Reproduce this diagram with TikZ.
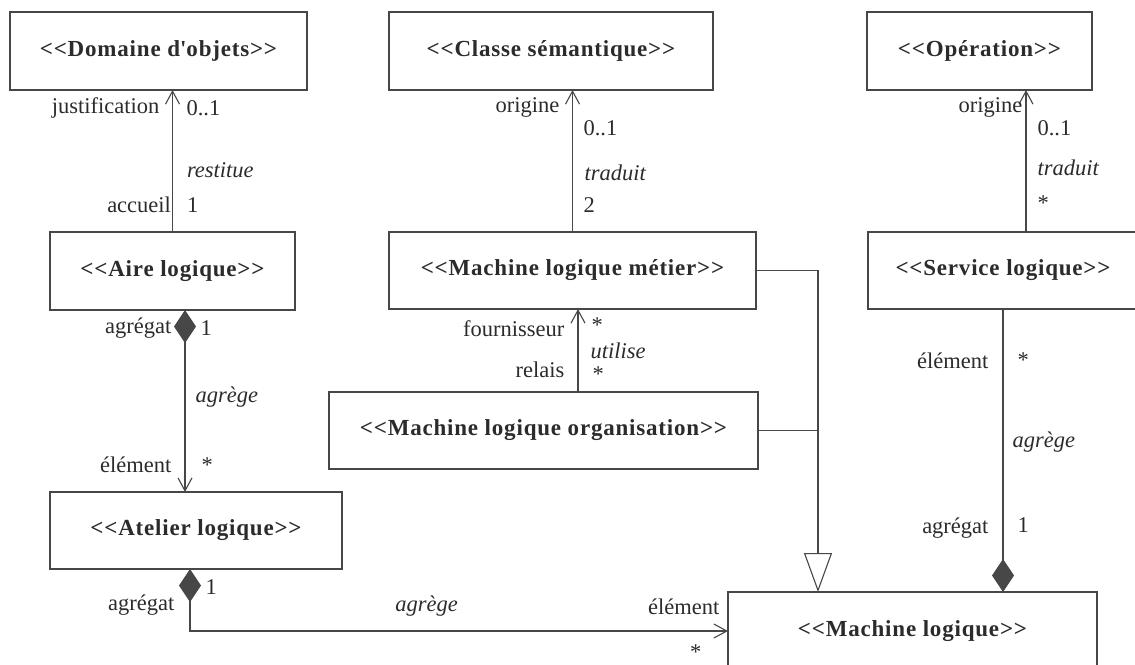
\documentclass[tikz,border=0pt]{standalone}
\usepackage{fontspec}
\setmainfont{Liberation Serif}
\newfontfamily\classfont[LetterSpace=3.5]{Liberation Serif}
\usetikzlibrary{arrows.meta,positioning}
\definecolor{trait}{rgb}{0.28,0.28,0.28}
\definecolor{texte}{rgb}{0.17,0.17,0.17}

\begin{document}
\begin{tikzpicture}[x=1pt, y=-1pt, line width=1.1pt, color=trait,
    classe/.style={rectangle, draw, minimum height=78pt, inner sep=0pt, outer sep=0pt, text=texte, font=\classfont\fontsize{23}{27}\selectfont\bfseries},
    role/.style={inner sep=0pt, text=texte, font=\fontsize{22.5}{27}\selectfont},
    nom/.style={inner sep=0pt, text=texte, font=\fontsize{22.5}{27}\selectfont\itshape},
    nav/.style={arrows={-{Straight Barb[length=13pt, width=14pt]}}},
    aggnav/.style={arrows={{Diamond[length=33pt, width=22pt]}-{Straight Barb[length=13pt, width=14pt]}}},
    aggfin/.style={arrows={-{Diamond[length=33pt, width=22pt]}}},
    gen/.style={arrows={-{Triangle[open, length=39pt, width=28pt]}}}]

    \useasboundingbox (0,0) rectangle (1135,664);
    \clip (0,0) rectangle (1135,664);

    \node[classe, minimum width=297pt] (dom) at (158.5,51) {<<Domaine d\textquotesingle objets>>};
    \node[classe, minimum width=324pt] (sem) at (551,51) {<<Classe sémantique>>};
    \node[classe, minimum width=225pt] (ope) at (979.5,51) {<<Opération>>};
    \node[classe, minimum width=245pt] (aire) at (172.5,271) {<<Aire logique>>};
    \node[classe, minimum width=367pt, minimum height=77pt] (metier) at (572.5,270.5) {<<Machine logique métier>>};
    \node[classe, minimum width=270pt, minimum height=77pt] (serv) at (1003,270.5) {<<Service logique>>};
    \node[classe, minimum width=429pt, minimum height=77pt] (orga) at (543.5,430.5) {<<Machine logique organisation>>};
    \node[classe, minimum width=292pt, minimum height=77pt] (atel) at (196,530.5) {<<Atelier logique>>};
    \node[classe, minimum width=369pt] (mach) at (912.5,631) {<<Machine logique>>};
    \coordinate (pointe) at ([xshift=-94.5pt]mach.north);

    \draw[nav] (aire.north) -- node[role, pos=0.19, left=1pt] {accueil} node[role, pos=0.19, right=14pt] {1}
        node[nom, pos=0.437, right=14pt] {restitue}
        node[role, pos=0.873, left=12.5pt] {justification} node[role, pos=0.873, right=13.5pt] {0..1} (aire.north |- dom.south);
    \draw[nav] (metier.north) -- node[role, pos=0.19, right=10.5pt] {2} node[nom, pos=0.415, right=11.5pt] {traduit}
        node[role, pos=0.732, right=10.5pt] {0..1} node[role, pos=0.88, left=12.5pt] {origine} (metier.north |- sem.south);
    \draw[nav] ([xshift=23pt]serv.north) -- node[role, pos=0.204, right=11pt] {*} node[nom, pos=0.45, right=11pt] {traduit}
        node[role, pos=0.73, right=11pt] {0..1} node[role, pos=0.88, left=3pt] {origine} ([xshift=23pt]serv.north |- ope.south);
    \draw[nav] ([xshift=34.5pt]orga.north) -- node[role, pos=0.265, left=13pt] {relais} node[role, pos=0.217, right=14pt] {*}
        node[nom, pos=0.5, right=12pt] {utilise} node[role, pos=0.76, left=13pt] {fournisseur} node[role, pos=0.807, right=13pt] {*}
        ([xshift=34.5pt]orga.north |- metier.south);

    \draw[aggnav] ([xshift=12.5pt]aire.south) -- node[role, pos=0.1, left=13pt] {agrégat} node[role, pos=0.1, right=15pt] {1}
        node[nom, pos=0.48, right=10pt] {agrège} node[role, pos=0.85, left=13pt] {élément} node[role, pos=0.855, right=16pt] {*}
        ([xshift=12.5pt]aire.south |- atel.north);
    \draw[aggnav] ([xshift=-6pt]atel.south) |- node[role, pos=0.145, right=15pt] {1} node[role, pos=0.29, left=15pt] {agrégat}
        node[nom, pos=0.72, above=14pt] {agrège} node[role, pos=1, above left=16pt and 8pt] {élément} node[role, pos=0.97, below=13pt] {*}
        (mach.west);
    \draw[aggfin] (serv.south) -- node[role, pos=0.184, left=14pt] {élément} node[role, pos=0.18, right=14pt] {*}
        node[nom, pos=0.47, right=9pt] {agrège} node[role, pos=0.774, left=14pt] {agrégat} node[role, pos=0.763, right=14pt] {1}
        (serv.south |- mach.north);

    \draw[gen] (metier.east) -| (pointe);
    \draw (orga.east) -- (orga.east -| pointe);

\end{tikzpicture}
\end{document}
